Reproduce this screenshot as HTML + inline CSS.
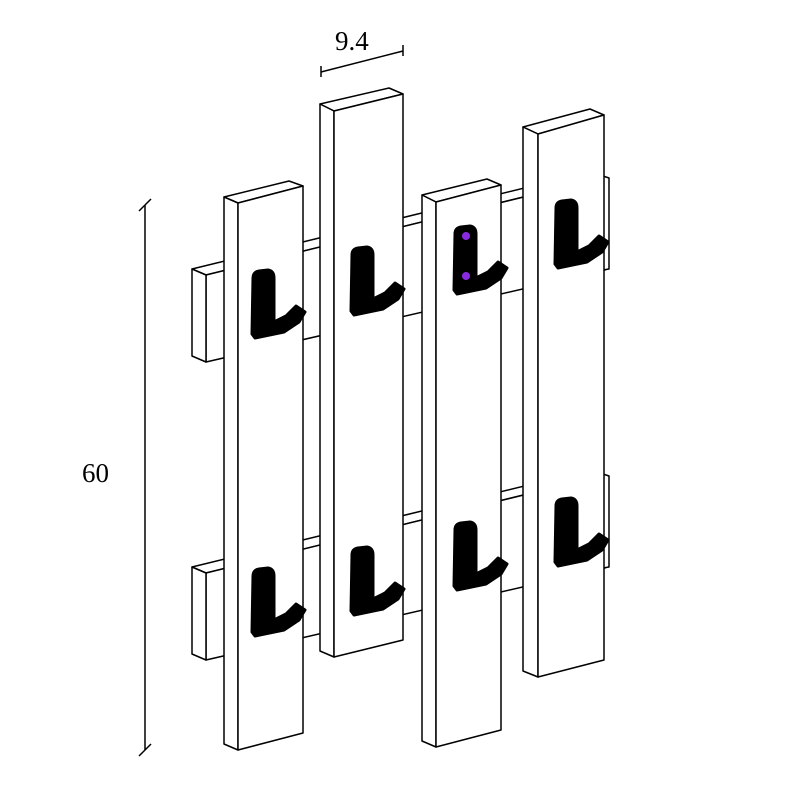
<!DOCTYPE html>
<html><head><style>body{margin:0;background:#fff}</style></head><body>
<svg width="800" height="800" viewBox="0 0 800 800" xmlns="http://www.w3.org/2000/svg">
<defs>
<g id="hook">
<path d="M1,8 Q1,2 7,1 L16,0 Q22,1 22,8 L22,52 L34,46 L44,36 L53,42 L47,52 L32,62 L3,68 L0,64 Z" fill="#000" stroke="#000" stroke-width="3" stroke-linejoin="round"/>
</g>
</defs>
<g fill="#fff" stroke="#000" stroke-width="1.5" stroke-linejoin="round">
<!-- upper rail -->
<polygon points="192,269 590,172 605,177 206,275"/>
<polygon points="206,275 605,177 605,270 206,362"/>
<polygon points="192,269 206,275 206,362 192,356"/>
<polygon points="603,176 609,178 609,269 603,270"/>
<!-- lower rail -->
<polygon points="192,567 590,470 605,475 206,573"/>
<polygon points="206,573 605,475 605,568 206,660"/>
<polygon points="192,567 206,573 206,660 192,654"/>
<polygon points="603,474 609,476 609,567 603,568"/>
<!-- plank 1 -->
<polygon points="224,197 289,181 303,186 238,203"/>
<polygon points="224,197 238,203 238,750 224,744"/>
<polygon points="238,203 303,186 303,733 238,750"/>
<!-- plank 2 -->
<polygon points="320,104 389,88 403,94 334,111"/>
<polygon points="320,104 334,111 334,657 320,651"/>
<polygon points="334,111 403,94 403,640 334,657"/>
<!-- plank 3 -->
<polygon points="422,195 487,179 501,185 436,202"/>
<polygon points="422,195 436,202 436,747 422,741"/>
<polygon points="436,202 501,185 501,730 436,747"/>
<!-- plank 4 -->
<polygon points="523,127 590,109 604,115 538,134"/>
<polygon points="523,127 538,134 538,677 523,671"/>
<polygon points="538,134 604,115 604,660 538,677"/>
</g>
<use href="#hook" transform="translate(252,270)"/>
<use href="#hook" transform="translate(351,247)"/>
<use href="#hook" transform="translate(454,226)"/>
<use href="#hook" transform="translate(555,200)"/>
<use href="#hook" transform="translate(252,568)"/>
<use href="#hook" transform="translate(351,547)"/>
<use href="#hook" transform="translate(454,522)"/>
<use href="#hook" transform="translate(555,498)"/>
<circle cx="466" cy="236" r="4" fill="#8a2be2"/>
<circle cx="466" cy="276" r="4" fill="#8a2be2"/>
<g stroke="#000" stroke-width="1.5" fill="none">
<line x1="145" y1="205" x2="145" y2="750"/>
<line x1="139" y1="211" x2="151" y2="199"/>
<line x1="139" y1="756" x2="151" y2="744"/>
<line x1="321" y1="72" x2="403" y2="51"/>
<line x1="321" y1="66" x2="321" y2="77"/>
<line x1="403" y1="45" x2="403" y2="56"/>
</g>
<text x="82" y="482" font-family="Liberation Serif, serif" font-size="27">60</text>
<text x="335" y="50" font-family="Liberation Serif, serif" font-size="27">9.4</text>
</svg>
</body></html>
